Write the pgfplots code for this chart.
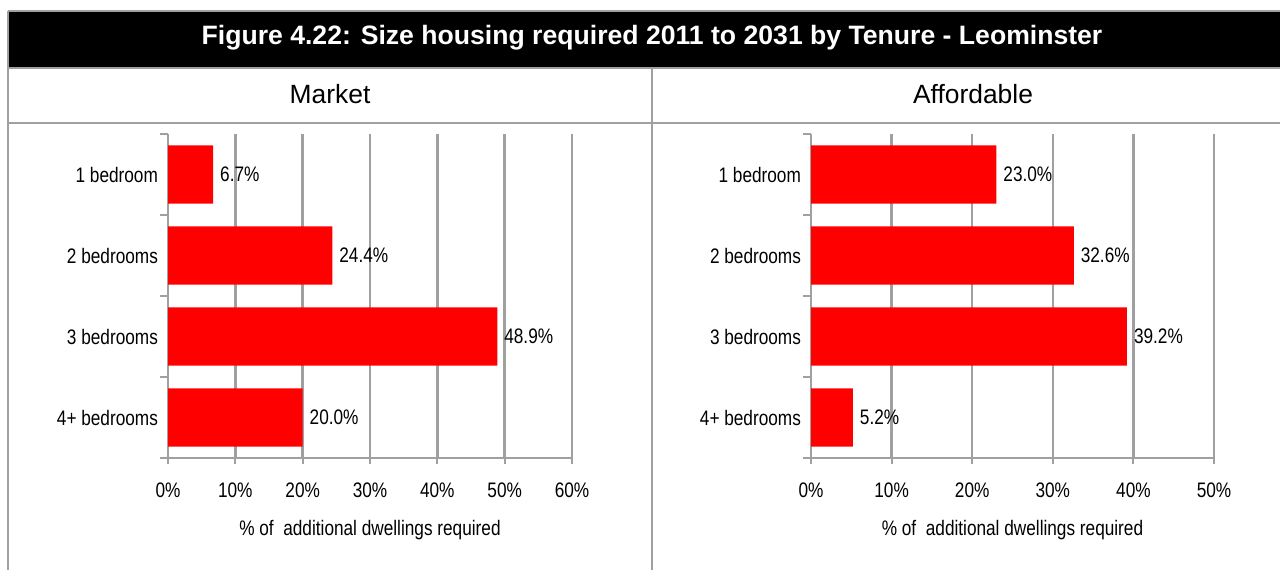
\documentclass[border=0pt]{standalone}
\usepackage{pgfplots}
\pgfplotsset{compat=1.18}
\usepackage{fontspec}
\setmainfont{Liberation Sans}
\newfontfamily\narrow{Liberation Sans}[FakeStretch=0.82]
\definecolor{gridgray}{HTML}{A0A0A0}
\definecolor{barred}{HTML}{FF0000}

\pgfplotstableread{
y val
1 6.7
2 24.4
3 48.9
4 20.0
}\market
\pgfplotstableread{
y val
1 23.0
2 32.6
3 39.2
4 5.2
}\affordable

\pgfplotsset{
  panel/.style={
    scale only axis,
    height=162pt,
    xbar,
    bar width=0.72,
    y dir=reverse,
    ymin=0.5, ymax=4.5,
    xmin=0,
    axis lines*=left,
    axis line style={gridgray, line width=1pt},
    ytick={1,2,3,4},
    yticklabels={1 bedroom,2 bedrooms,3 bedrooms,4+ bedrooms},
    minor ytick={0.5,1.5,2.5,3.5,4.5},
    major y tick style={draw=none},
    minor y tick style={gridgray, line width=1pt},
    major x tick style={gridgray, line width=1pt},
    tick align=outside,
    major tick length=3pt,
    minor tick length=4pt,
    xmajorgrids,
    major x grid style={gridgray, line width=1.2pt},
    tick label style={font=\narrow\fontsize{10.5}{12}\selectfont, text=black},
    xticklabel style={yshift=-6pt},
    yticklabel style={xshift=1.5pt},
    xlabel={\% of\ \ additional dwellings required},
    every axis x label/.style={at={(axis description cs:0.5,0)}, anchor=center, yshift=-36pt, font=\narrow\fontsize{10.5}{12}\selectfont},
    nodes near coords={\pgfmathprintnumber[fixed,fixed zerofill,precision=1,assume math mode=true]{\pgfplotspointmeta}\%},
    every node near coord/.append style={font=\narrow\fontsize{10.5}{12}\selectfont, text=black},
  }
}

\begin{document}
\begin{tikzpicture}
\useasboundingbox (0,0) rectangle (640pt,285pt);
\fill[white] (0,0) rectangle (640pt,285pt);
% frame
\fill[black] (4pt,251pt) rectangle (640pt,279.5pt);
\draw[gridgray, line width=1pt] (4pt,279.5pt) -- (640pt,279.5pt);
\draw[gridgray, line width=1pt] (4pt,251pt) -- (640pt,251pt);
\draw[gridgray, line width=1pt] (4pt,223.5pt) -- (640pt,223.5pt);
\draw[gridgray, line width=1pt] (4pt,0pt) -- (4pt,279.5pt);
\draw[gridgray, line width=1pt] (326pt,0pt) -- (326pt,251pt);
\node[text=white, font=\bfseries\fontsize{13.3}{16}\selectfont] at (326pt,266pt) {Figure 4.22: Size housing required 2011 to 2031 by Tenure - Leominster};
\node[font=\fontsize{13.2}{16}\selectfont] at (165pt,238pt) {Market};
\node[font=\fontsize{13.2}{16}\selectfont] at (486.5pt,238pt) {Affordable};

\begin{axis}[panel, at={(84pt,56pt)}, anchor=south west, width=202pt, xmax=60,
  xtick={0,10,20,30,40,50,60}, xticklabels={0\%,10\%,20\%,30\%,40\%,50\%,60\%}]
\addplot[fill=barred, draw=none] table[x=val, y=y] {\market};
\end{axis}

\begin{axis}[panel, at={(405.5pt,56pt)}, anchor=south west, width=201.5pt, xmax=50,
  xtick={0,10,20,30,40,50}, xticklabels={0\%,10\%,20\%,30\%,40\%,50\%}]
\addplot[fill=barred, draw=none] table[x=val, y=y] {\affordable};
\end{axis}
\end{tikzpicture}
\end{document}
